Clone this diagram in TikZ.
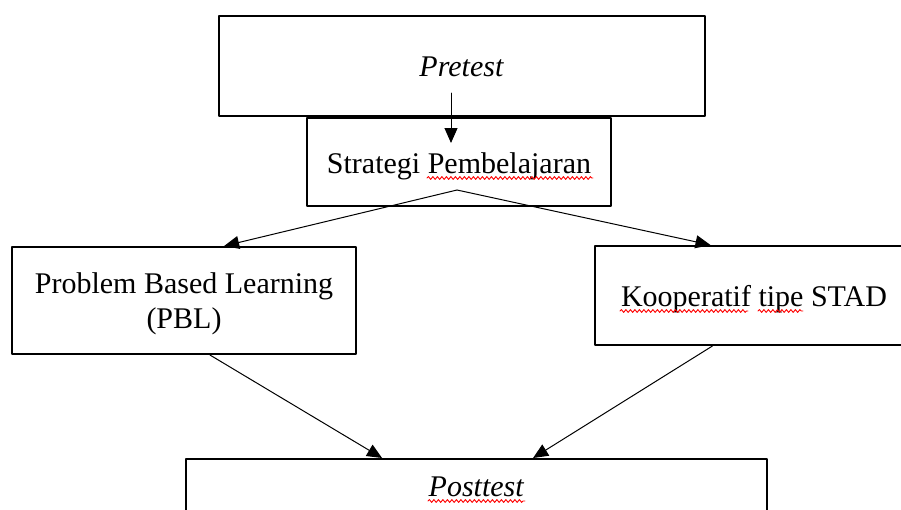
\documentclass[tikz,border=0pt]{standalone}
\usepackage{fontspec}
\setmainfont{Liberation Serif}
\usetikzlibrary{arrows.meta,calc,decorations.pathmorphing}
\tikzset{
	kotak/.style={draw,line width=2pt,inner sep=0pt,font=\fontsize{30}{34.7}\selectfont},
	satu/.style={text height=26pt,text depth=4pt},
	panah/.style={line width=1pt,-{Triangle[length=15pt,width=13pt]}},
	salah/.style={draw=red,line width=0.9pt,decorate,decoration={snake,amplitude=1.4pt,segment length=4.5pt}}
}
\begin{document}
\begin{tikzpicture}[x=1pt,y=-1pt,line cap=round,line join=round]
		\useasboundingbox (0,0) rectangle (901,509);
		\clip (0,0) rectangle (901,509);
		%Kotak
		\node[kotak,satu,minimum width=486pt,minimum height=100pt] (pre) at (461.7,65.7) {\textit{Pretest}};
		\node[kotak,satu,minimum width=304pt,minimum height=88pt] (strat) at (459,162) {Strategi Pembelajaran};
		\node[kotak,align=center,minimum width=344pt,minimum height=107pt] (pbl) at (184,300.5) {\rule{0pt}{27pt}Problem Based Learning\\(PBL)};
		\node[kotak,satu,minimum width=318pt,minimum height=99pt] (stad) at (754,295.5) {Kooperatif tipe STAD};
		\node[kotak,satu,minimum width=581pt,minimum height=52.5pt] (post) at (476.5,485.25) {\textit{Posttest}};
		%Panah
		\coordinate (a1) at (451,93);
		\coordinate (a2) at (451,143);
		\coordinate (puncak) at (457,190);
		\draw[panah] (a1)--(a2);
		\draw[panah] (puncak)--($(pbl.north west)!.616!(pbl.north east)$);
		\draw[panah] (puncak)--($(stad.north west)!.364!(stad.north east)$);
		\draw[panah] ($(pbl.south west)!.575!(pbl.south east)$)--($(post.north west)!.338!(post.north east)$);
		\draw[panah] ($(stad.south west)!.37!(stad.south east)$)--($(post.north west)!.597!(post.north east)$);
		%Garis merah
		\path[salah] (427,178)--(593,178);
		\path[salah] (620,311)--(748,311);
		\path[salah] (758,311)--(803,311);
		\path[salah] (428,501)--(525,501);
	\end{tikzpicture}
\end{document}
